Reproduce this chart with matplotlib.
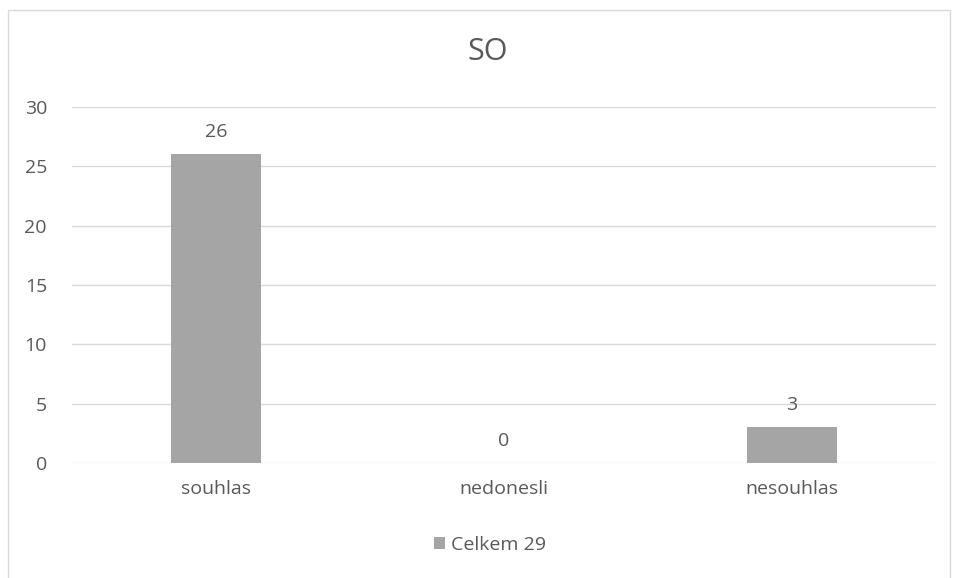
import numpy as np
import matplotlib
matplotlib.use("Agg")
from matplotlib import pyplot as plt
from matplotlib.patches import Rectangle

categories = ["souhlas", "nedonesli", "nesouhlas"]
values = [26, 0, 3]
series_name = "Celkem 29"
title = "SO"

txt = "#595959"
plt.rcParams['font.family'] = ['Open Sans', 'DejaVu Sans']

fig = plt.figure(figsize=(9.54, 5.78), dpi=100)
ax = fig.add_axes([72/954, 1-463/578, (936-72)/954, (463-107)/578])

# chart frame
fig.patches.append(Rectangle((8/954, -0.01), 942/954, 1-10/578+0.01,
                             transform=fig.transFigure, fill=False,
                             edgecolor='#d9d9d9', linewidth=1))

x = np.arange(len(categories))
bars = ax.bar(x, values, width=0.31, color='#a5a5a5', label=series_name, zorder=3)
for xi, v in zip(x, values):
    ax.text(xi, v + 1.1, f"{v}", ha='center', va='bottom', fontsize=14, color=txt)

ax.set_xlim(-0.5, 2.5)
ax.set_ylim(0, 30)
ax.set_yticks(range(0, 31, 5))
ax.set_xticks(x)
ax.set_xticklabels(categories)
ax.grid(axis='y', color='#d9d9d9', linewidth=1, zorder=0)
for s in ax.spines.values():
    s.set_visible(False)
ax.tick_params(length=0, labelsize=14, labelcolor=txt)
ax.tick_params(axis='y', pad=18)
ax.tick_params(axis='x', pad=12)

fig.text(488/954, 1-52/578, title, ha='center', va='center', fontsize=22, color=txt)
fig.legend(loc='center', bbox_to_anchor=(490/954, 1-545/578), frameon=False,
           fontsize=14, labelcolor=txt, handlelength=0.6, handleheight=0.6,
           handletextpad=0.3)

plt.savefig("out.png", dpi=100)
